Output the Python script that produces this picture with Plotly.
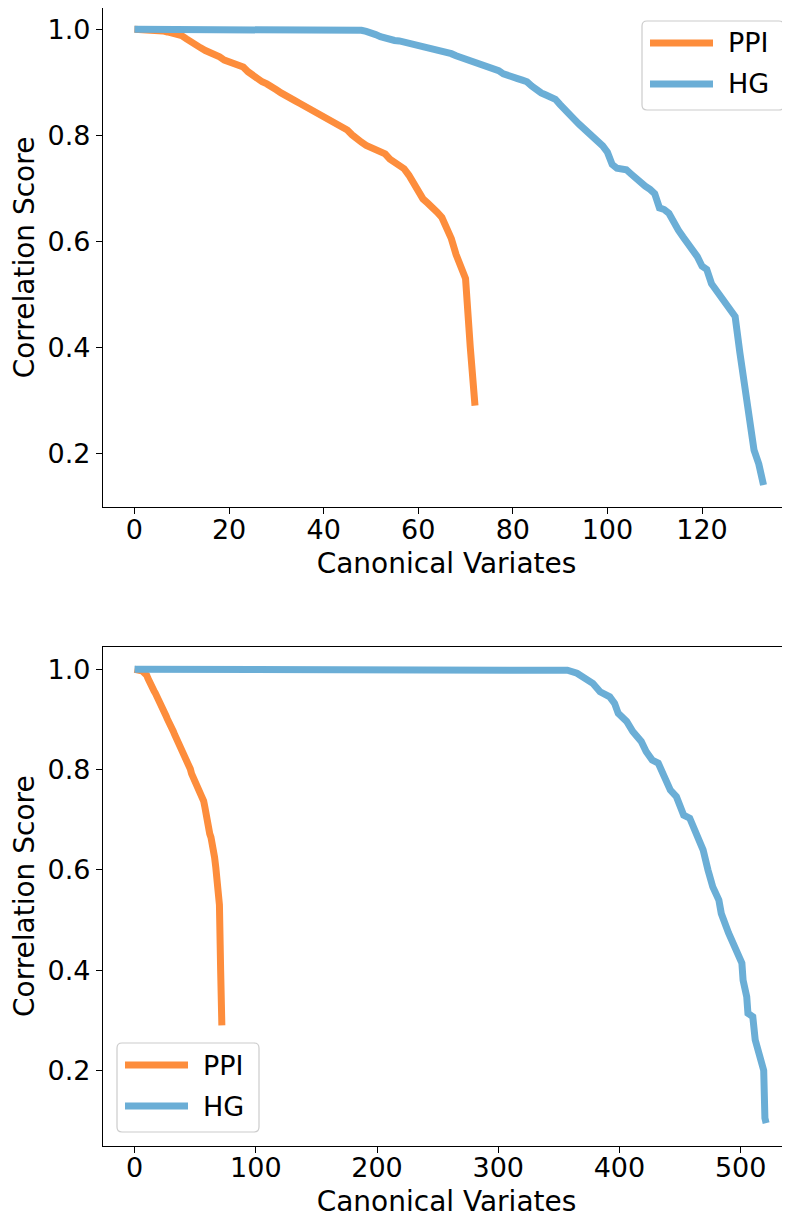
import plotly.graph_objects as go

# ---------------- data ----------------
ppi_y = [1.000, 1.000, 1.000, 0.999, 0.999, 0.998, 0.997, 0.995, 0.993, 0.991,
         0.988, 0.982, 0.975, 0.968, 0.965, 0.960, 0.957, 0.953, 0.948, 0.942,
         0.938, 0.935, 0.932, 0.929, 0.920, 0.913, 0.907, 0.901, 0.897, 0.893,
         0.886, 0.880, 0.876, 0.870, 0.865, 0.860, 0.855, 0.849, 0.845, 0.840,
         0.836, 0.831, 0.826, 0.820, 0.814, 0.810, 0.801, 0.792, 0.787, 0.781,
         0.777, 0.774, 0.770, 0.765, 0.755, 0.748, 0.743, 0.737, 0.725, 0.708,
         0.690, 0.680, 0.672, 0.665, 0.655, 0.645, 0.625, 0.605, 0.575, 0.555,
         0.530, 0.400, 0.290]
ppi_x = list(range(len(ppi_y)))

hg_top_y = [1.000] * 47 + [
    0.999, 0.998, 0.996, 0.994, 0.990, 0.986, 0.983, 0.981, 0.979, 0.978,
    0.976, 0.975, 0.973, 0.971, 0.969, 0.966, 0.964, 0.962, 0.959, 0.957,
    0.954, 0.950, 0.947, 0.943, 0.940, 0.938, 0.936, 0.933, 0.930, 0.927,
    0.922, 0.916, 0.912, 0.910, 0.907, 0.904, 0.901, 0.893, 0.885, 0.880,
    0.876, 0.872, 0.868, 0.858, 0.850, 0.840, 0.830, 0.821, 0.813, 0.805,
    0.797, 0.789, 0.780, 0.768, 0.745, 0.738, 0.737, 0.735, 0.727, 0.718,
    0.712, 0.704, 0.698, 0.690, 0.663, 0.660, 0.653, 0.635, 0.621, 0.608,
    0.596, 0.584, 0.571, 0.553, 0.547, 0.520, 0.508, 0.495, 0.483, 0.473,
    0.458, 0.390, 0.320, 0.262, 0.206, 0.180, 0.140]
hg_top_x = list(range(len(hg_top_y)))

hg_bot_x = [0, 352, 357, 365, 373, 378, 384, 392, 396, 399, 406, 411, 418, 422,
            427, 432, 437, 442, 447, 453, 458, 464, 469, 473, 477, 482, 484, 490,
            497, 501, 502, 505, 506, 510, 512, 516, 518, 519, 520, 521]
hg_bot_y = [1.000, 1.000, 0.998, 0.992, 0.982, 0.972, 0.955, 0.945, 0.932, 0.912,
            0.896, 0.876, 0.856, 0.836, 0.819, 0.813, 0.786, 0.759, 0.746, 0.709,
            0.703, 0.670, 0.640, 0.600, 0.566, 0.540, 0.513, 0.474, 0.434, 0.414,
            0.380, 0.347, 0.314, 0.307, 0.261, 0.228, 0.215, 0.200, 0.105, 0.095]

series_names = ["PPI", "HG"]
series_colors = ["#fd8d3c", "#6baed6"]
y_ticks = [0.2, 0.4, 0.6, 0.8, 1.0]
x_ticks_top = [0, 20, 40, 60, 80, 100, 120]
x_ticks_bot = [0, 100, 200, 300, 400, 500]
x_title = "Canonical Variates"
y_title = "Correlation Score"

# ---------------- figure ----------------
OFF = 8            # page body margin of the html page
W, H = 790 - OFF, 1220 - OFF
ML = 103 - OFF
FONT = "DejaVu Sans"
FS = 27
FS_T = 28
LW = 7

fig = go.Figure()
fig.add_trace(go.Scatter(x=ppi_x, y=ppi_y, mode="lines", name="PPI",
                         line=dict(color=series_colors[0], width=LW),
                         xaxis="x", yaxis="y", showlegend=False))
fig.add_trace(go.Scatter(x=hg_top_x, y=hg_top_y, mode="lines", name="HG",
                         line=dict(color=series_colors[1], width=LW),
                         xaxis="x", yaxis="y", showlegend=False))
fig.add_trace(go.Scatter(x=ppi_x, y=ppi_y, mode="lines", name="PPI",
                         line=dict(color=series_colors[0], width=LW),
                         xaxis="x2", yaxis="y2", showlegend=False))
fig.add_trace(go.Scatter(x=hg_bot_x, y=hg_bot_y, mode="lines", name="HG",
                         line=dict(color=series_colors[1], width=LW),
                         xaxis="x2", yaxis="y2", showlegend=False))


def py2paper(py):
    return min(1.0, max(0.0, 1 - (py - OFF) / H))


def px2paper(px):
    return (px - OFF - ML) / (W - ML)


axis_common = dict(
    showline=True, linecolor="black", linewidth=1.3,
    ticks="outside", ticklen=6, tickwidth=1.3, tickcolor="black",
    showgrid=False, zeroline=False,
    tickfont=dict(family=FONT, size=FS, color="black"),
)

top_dom = [py2paper(507), py2paper(8)]
bot_dom = [py2paper(1145.7), py2paper(646.7)]

fig.update_layout(
    width=W, height=H,
    margin=dict(l=ML, r=0, t=0, b=0),
    paper_bgcolor="white", plot_bgcolor="white",
    font=dict(family=FONT, size=FS, color="black"),
    xaxis=dict(axis_common, domain=[0, 1], anchor="y", range=[-6.65, 138.6],
               tickvals=x_ticks_top, mirror=True, ticklabelstandoff=-8,
               title=dict(text=x_title, font=dict(family=FONT, size=FS_T), standoff=9)),
    yaxis=dict(axis_common, domain=top_dom, anchor="x", range=[0.0987, 1.0402],
               tickvals=y_ticks, tickformat=".1f",
               title=dict(text=y_title, font=dict(family=FONT, size=FS_T), standoff=5)),
    xaxis2=dict(axis_common, domain=[0, 1], anchor="y2", range=[-26.05, 540.7],
                tickvals=x_ticks_bot, mirror=True, ticklabelstandoff=-8,
                title=dict(text=x_title, font=dict(family=FONT, size=FS_T), standoff=9)),
    yaxis2=dict(axis_common, domain=bot_dom, anchor="x2", range=[0.0499, 1.045],
                tickvals=y_ticks, tickformat=".1f",
                title=dict(text=y_title, font=dict(family=FONT, size=FS_T), standoff=5)),
)


# ---------------- custom legends (matplotlib style) ----------------
def add_legend(x0, y0, x1, y1, line_x0, line_x1, text_x, rows):
    r = 5
    X0, X1 = px2paper(x0), px2paper(x1)
    Y0, Y1 = py2paper(y0), py2paper(y1)
    rx = r / (W - ML)
    ry = r / H
    path = (f"M {X0 + rx},{Y0} L {X1 - rx},{Y0} Q {X1},{Y0} {X1},{Y0 - ry} "
            f"L {X1},{Y1 + ry} Q {X1},{Y1} {X1 - rx},{Y1} "
            f"L {X0 + rx},{Y1} Q {X0},{Y1} {X0},{Y1 + ry} "
            f"L {X0},{Y0 - ry} Q {X0},{Y0} {X0 + rx},{Y0} Z")
    fig.add_shape(type="path", path=path, xref="paper", yref="paper",
                  line=dict(color="#cccccc", width=1.2),
                  fillcolor="rgba(255,255,255,0.8)", layer="above")
    for name, color, ly in rows:
        fig.add_shape(type="line", xref="paper", yref="paper",
                      x0=px2paper(line_x0), x1=px2paper(line_x1),
                      y0=py2paper(ly), y1=py2paper(ly),
                      line=dict(color=color, width=LW), layer="above")
        fig.add_annotation(x=px2paper(text_x), y=py2paper(ly), xref="paper", yref="paper",
                           text=name, showarrow=False, xanchor="left", yanchor="middle",
                           font=dict(family=FONT, size=FS, color="black"))


add_legend(642, 21, 784, 110, 650, 713, 726,
           [(series_names[0], series_colors[0], 43), (series_names[1], series_colors[1], 84)])
add_legend(117, 1043, 259, 1132, 125, 188, 201,
           [(series_names[0], series_colors[0], 1065), (series_names[1], series_colors[1], 1106)])

fig.write_html("out.html")
